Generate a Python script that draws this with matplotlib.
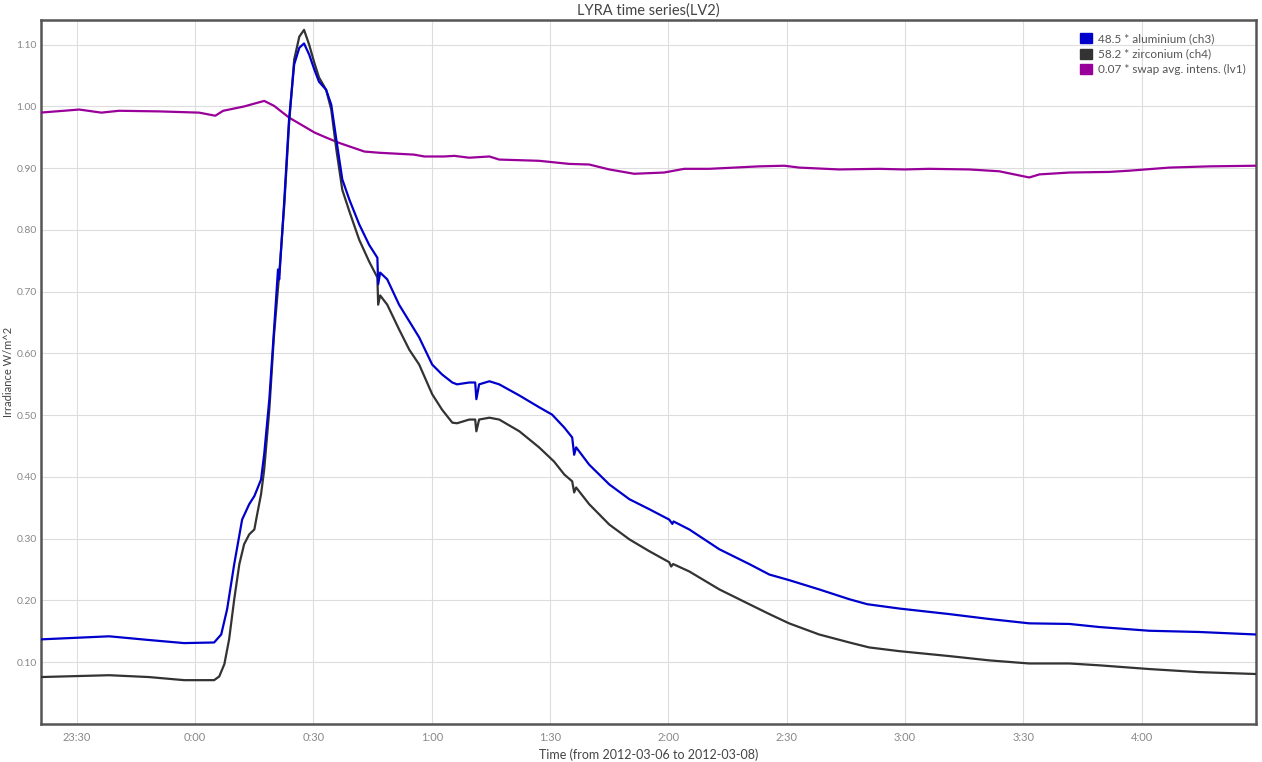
import matplotlib
matplotlib.use("Agg")
import matplotlib.pyplot as plt
from matplotlib.patches import Patch

plt.rcParams['font.family'] = ['Lato', 'DejaVu Sans']

# time in minutes relative to 0:00 on 2012-03-07
t_al = [-39.3, -21.8, -11.7, -2.8, 4.8, 6.6, 8.1, 9.9, 11.9, 13.7, 15.0, 15.7, 16.7, 17.5, 18.8,
        20.0, 21.0, 21.3, 22.6, 23.8, 25.1, 26.4, 27.6, 28.9, 30.2, 31.4, 33.2, 34.5, 35.8, 37.3,
        39.1, 41.6, 44.1, 46.2, 46.4, 46.9, 48.7, 51.7, 54.3, 56.8, 60.1, 62.6, 65.2, 66.4, 69.5,
        71.0, 71.3, 72.0, 74.6, 77.1, 82.2, 87.2, 90.5, 93.6, 95.6, 96.1, 96.6, 99.9, 105.0, 110.1,
        115.1, 120.2, 121.0, 121.3, 125.3, 132.9, 140.5, 145.6, 150.6, 158.2, 165.9, 170.4, 178.5,
        191.2, 201.4, 211.5, 221.7, 229.3, 241.9, 254.6, 268.8]
v_al = [0.137, 0.142, 0.136, 0.131, 0.132, 0.145, 0.186, 0.259, 0.331, 0.356, 0.369, 0.38, 0.396,
        0.437, 0.526, 0.639, 0.736, 0.72, 0.849, 0.979, 1.068, 1.095, 1.102, 1.084, 1.06, 1.04,
        1.027, 1.003, 0.946, 0.882, 0.849, 0.809, 0.776, 0.755, 0.712, 0.731, 0.72, 0.679, 0.652,
        0.626, 0.582, 0.566, 0.553, 0.55, 0.553, 0.553, 0.526, 0.55, 0.555, 0.55, 0.532, 0.513,
        0.501, 0.48, 0.464, 0.436, 0.448, 0.42, 0.388, 0.364, 0.348, 0.331, 0.324, 0.328, 0.315,
        0.283, 0.259, 0.242, 0.233, 0.218, 0.202, 0.194, 0.187, 0.178, 0.17, 0.163, 0.162, 0.157,
        0.151, 0.149, 0.145]

t_zr = [-39.3, -21.8, -11.7, -2.8, 4.8, 6.1, 7.4, 8.6, 9.9, 11.2, 12.4, 13.7, 15.0, 15.7, 16.7,
        17.5, 18.8, 20.0, 21.3, 22.6, 23.8, 25.1, 26.4, 27.6, 28.9, 30.2, 31.4, 33.2, 34.5, 35.8,
        37.3, 39.1, 41.6, 44.1, 46.2, 46.4, 46.9, 48.7, 51.7, 54.3, 56.8, 60.1, 62.6, 65.2, 66.4,
        69.5, 71.0, 71.3, 72.0, 74.6, 77.1, 82.2, 87.2, 91.0, 93.6, 95.6, 96.1, 96.6, 99.9, 105.0,
        110.1, 115.1, 120.2, 120.7, 121.2, 125.3, 132.9, 140.5, 145.6, 150.6, 158.2, 165.9, 170.9,
        178.5, 191.2, 201.4, 211.5, 221.7, 229.3, 241.9, 254.6, 268.8]
v_zr = [0.076, 0.079, 0.076, 0.071, 0.071, 0.077, 0.097, 0.137, 0.202, 0.259, 0.291, 0.307, 0.315,
        0.339, 0.372, 0.412, 0.509, 0.631, 0.728, 0.841, 0.971, 1.076, 1.113, 1.124, 1.10, 1.071,
        1.047, 1.027, 0.995, 0.93, 0.865, 0.83, 0.784, 0.749, 0.723, 0.679, 0.694, 0.679, 0.639,
        0.606, 0.582, 0.534, 0.509, 0.488, 0.487, 0.493, 0.493, 0.474, 0.493, 0.496, 0.493, 0.474,
        0.448, 0.425, 0.404, 0.393, 0.375, 0.383, 0.356, 0.323, 0.299, 0.28, 0.262, 0.255, 0.259,
        0.247, 0.218, 0.194, 0.178, 0.163, 0.145, 0.132, 0.124, 0.118, 0.110, 0.103, 0.098, 0.098,
        0.095, 0.089, 0.084, 0.081]

t_sw = [-39.3, -29.4, -23.8, -19.3, -9.1, 1.0, 5.1, 7.1, 12.4, 17.5, 20.0, 23.8, 30.2, 32.7, 36.5,
        42.9, 46.7, 55.5, 58.1, 63.1, 65.7, 69.5, 74.6, 77.1, 87.2, 94.8, 99.9, 105.0, 111.3, 118.9,
        124.0, 130.3, 136.7, 143.0, 149.4, 153.2, 163.3, 173.5, 179.8, 186.1, 196.3, 203.9, 211.5,
        214.1, 221.7, 231.8, 236.9, 247.0, 257.2, 268.8]
v_sw = [0.99, 0.995, 0.99, 0.993, 0.992, 0.99, 0.985, 0.993, 1.0, 1.009, 1.001, 0.982, 0.958,
        0.951, 0.941, 0.927, 0.925, 0.922, 0.919, 0.919, 0.92, 0.917, 0.919, 0.914, 0.912, 0.907,
        0.906, 0.898, 0.891, 0.893, 0.899, 0.899, 0.901, 0.903, 0.904, 0.901, 0.898, 0.899, 0.898,
        0.899, 0.898, 0.895, 0.885, 0.89, 0.893, 0.894, 0.896, 0.901, 0.903, 0.904]

labels = ["48.5 * aluminium (ch3)", "58.2 * zirconium (ch4)", "0.07 * swap avg. intens. (lv1)"]
colors = ["#0000cc", "#333333", "#990099"]

xtick_pos = [-30, 0, 30, 60, 90, 120, 150, 180, 210, 240]
xtick_labels = ["23:30", "0:00", "0:30", "1:00", "1:30", "2:00", "2:30", "3:00", "3:30", "4:00"]
ytick_pos = [0.10, 0.20, 0.30, 0.40, 0.50, 0.60, 0.70, 0.80, 0.90, 1.00, 1.10]

fig = plt.figure(figsize=(12.62, 7.62), dpi=100)
ax = fig.add_axes([41/1262, 38/762, 1215/1262, 704/762])

ax.plot(t_sw, v_sw, color=colors[2], lw=1.6, zorder=3)
ax.plot(t_zr, v_zr, color=colors[1], lw=1.6, zorder=3)
ax.plot(t_al, v_al, color=colors[0], lw=1.6, zorder=4)

ax.set_xlim(-39.1, 269.0)
ax.set_ylim(0.0, 1.14)
ax.set_xticks(xtick_pos)
ax.set_xticklabels(xtick_labels)
ax.set_yticks(ytick_pos)
ax.set_yticklabels([f"{v:.2f}" for v in ytick_pos])
ax.grid(True, color="#dddddd", lw=0.8, zorder=0)
ax.set_axisbelow(True)
ax.tick_params(axis="x", length=0, labelsize=8, labelcolor="#888888", pad=6)
ax.tick_params(axis="y", length=0, labelsize=7.5, labelcolor="#888888", pad=3)
for s in ax.spines.values():
    s.set_color("#555555")
    s.set_linewidth(1.8)

ax.set_title("LYRA time series(LV2)", fontsize=10.5, color="#444444", pad=4)
ax.set_xlabel("Time (from 2012-03-06 to 2012-03-08)", fontsize=9, color="#444444", labelpad=4)
ax.set_ylabel("Irradiance W/m^2", fontsize=8, color="#444444")
ax.yaxis.set_label_coords(-27/1215, 0.5)

handles = [Patch(facecolor=c, edgecolor=c) for c in colors]
leg = ax.legend(handles, labels, loc="upper right", frameon=False, fontsize=8.5,
                handlelength=1.0, handleheight=0.9, handletextpad=0.5, labelspacing=0.4,
                borderaxespad=0.4, bbox_to_anchor=(0.999, 0.995))
for txt in leg.get_texts():
    txt.set_color("#555555")

fig.savefig("out.png", dpi=100, facecolor="white")
